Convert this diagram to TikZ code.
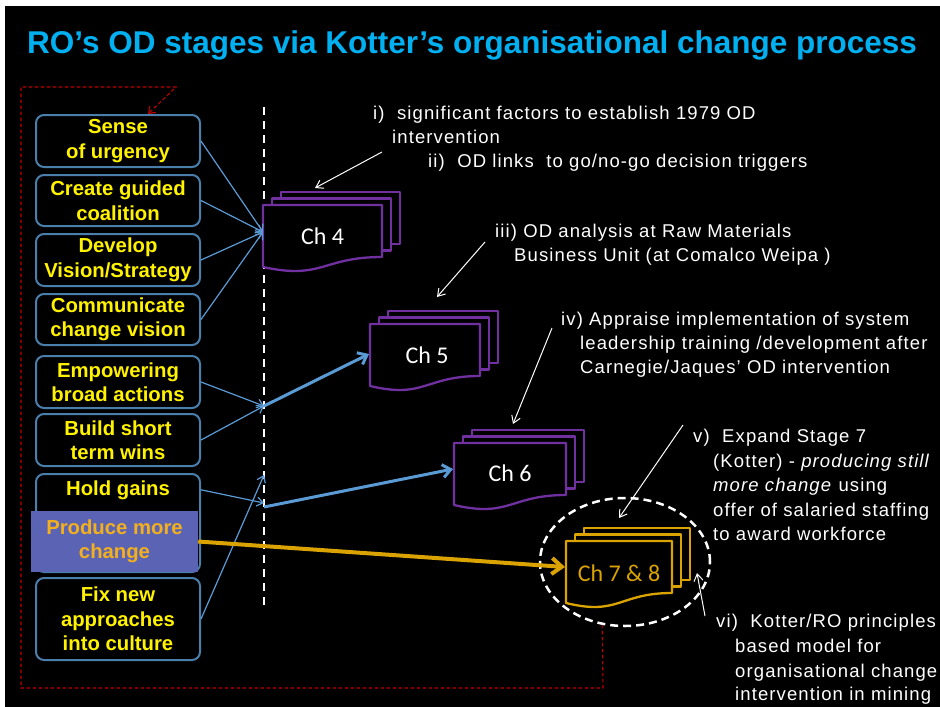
\documentclass[tikz,border=0pt]{standalone}
\usepackage{fontspec}
\setmainfont{Liberation Sans}
\newfontfamily\calfont{Carlito}
\newfontfamily\annfont[LetterSpace=6]{Liberation Sans}
\usetikzlibrary{arrows.meta,shapes.geometric}
\definecolor{titleblue}{HTML}{00B0F0}
\definecolor{boxblue}{HTML}{4A7EAB}
\definecolor{arrblue}{HTML}{5B9BD5}
\definecolor{docpurple}{HTML}{7030A0}
\definecolor{prodfill}{HTML}{5B63B5}
\definecolor{prodtext}{HTML}{F2B01E}
\definecolor{goldc}{HTML}{DAA300}
\definecolor{darkred}{HTML}{C00000}
\newcommand\kdocs[4]{%
 \filldraw[docline,draw=#4] ({#1+18},{#2-13}) rectangle ({#1+18+#3},{#2+39});
 \filldraw[docline,draw=#4] ({#1+9},{#2-6.5}) rectangle ({#1+9+#3},{#2+45.5});
 \filldraw[docline,draw=#4] (#1,#2) -- ({#1+#3},#2) -- ({#1+#3},{#2+52}) .. controls ({#1+#3/2},{#2+52}) and ({#1+#3/2},{#2+75}) .. (#1,{#2+62}) -- cycle;}
\begin{document}
\begin{tikzpicture}[x=1pt,y=-1pt,
  kbox/.style={draw=boxblue, line width=2pt, rounded corners=8pt, minimum width=164pt, inner sep=0pt, align=center, text=yellow, font=\bfseries\fontsize{20.3}{24.5}\selectfont},
  ktext/.style={inner sep=0pt, text=yellow, font=\bfseries\fontsize{20.3}{24.5}\selectfont},
  ann/.style={anchor=base west, inner sep=0pt, text=white, font=\annfont\fontsize{18.5}{22}\selectfont},
  chlab/.style={anchor=base, inner sep=0pt, font=\calfont\fontsize{24}{28}\selectfont},
  docline/.style={fill=black, line width=2.3pt, line join=round},
  thinarr/.style={draw=arrblue, line width=1.2pt, -{Straight Barb[length=6pt,width=9pt]}},
  thickarr/.style={draw=arrblue, line width=3pt, -{Straight Barb[length=8pt,width=13pt]}},
  goldarr/.style={draw=goldc, line width=4pt, -{Straight Barb[length=10pt,width=16pt]}},
  warr/.style={draw=white, line width=1pt, -{Straight Barb[length=7pt,width=9pt]}},
  reddash/.style={draw=darkred, line width=1.1pt, dash pattern=on 3.5pt off 2.5pt},
  whitedash/.style={draw=white, line width=2.5pt, dash pattern=on 8pt off 6pt}
]
\useasboundingbox (0,0) rectangle (940,707);
\fill[white] (0,0) rectangle (940,707);
\fill[black] (5,6) rectangle (940,707);

% title
\node[anchor=base west, inner sep=0pt, text=titleblue, font=\bfseries\fontsize{31.5}{36}\selectfont] (title) at (27,53) {RO’s OD stages via Kotter’s organisational change process};

% dashed divider
\coordinate (vtop) at (264,107);
\coordinate (vbot) at (264,607);
\draw[whitedash] (vtop) -- (vbot);

% ellipse round Ch 7 & 8
\node[draw=white, line width=2.5pt, dash pattern=on 8pt off 5pt, ellipse, minimum width=170pt, minimum height=128pt, inner sep=0pt] (ell) at (625,562) {};

% Kotter boxes
\node[kbox, minimum height=52pt] (b1) at (118,141) {Sense\\of urgency};
\node[kbox, minimum height=51pt] (b2) at (118,200.5) {Create guided\\coalition};
\node[kbox, minimum height=52pt] (b3) at (118,260) {Develop\\Vision/Strategy};
\node[kbox, minimum height=51pt] (b4) at (118,319.5) {Communicate\\change vision};
\node[kbox, minimum height=52pt] (b5) at (118,382) {Empowering\\broad actions};
\node[kbox, minimum height=52pt] (b6) at (118,440) {Build short\\term wins};
\node[kbox, minimum height=98pt] (b7) at (118,523) {};
\node[ktext, anchor=base] (holdt) at (118,495) {Hold gains};
\node[fill=prodfill, minimum width=167pt, minimum height=61pt, inner sep=0pt, align=center, text=prodtext, font=\bfseries\fontsize{20.3}{24.5}\selectfont] (b7p) at (114.5,541.5) {Produce more\\change};
\node[kbox, minimum height=82pt] (b8) at (118,619) {Fix new\\approaches\\into culture};

% chapter stacks
\kdocs{263}{205}{119}{docpurple}
\node[chlab, text=white] (ch4) at (322.5,244) {Ch 4};
\kdocs{370}{324}{110}{docpurple}
\node[chlab, text=white] (ch5) at (427,363) {Ch 5};
\kdocs{454}{443}{112}{docpurple}
\node[chlab, text=white] (ch6) at (510,481) {Ch 6};
\kdocs{566}{541}{106}{goldc}
\node[chlab, text=goldc] (ch7) at (619,581) {Ch 7 \& 8};

\coordinate (ch4in) at (263,232);
\coordinate (ch5in) at (369,354);
\coordinate (ch6in) at (453,469);
\coordinate (ch7in) at (565,567);
\coordinate (j5) at (264,406);
\coordinate (j6a) at (264,503);
\coordinate (j6b) at (264,475);
\coordinate (j6) at (264,507);

% blue connectors
\draw[thinarr] (b1.east) -- (ch4in);
\draw[thinarr] (b2.east) -- (ch4in);
\draw[thinarr] (b3.east) -- (ch4in);
\draw[thinarr] (b4.east) -- (ch4in);
\draw[thinarr] (b5.east) -- (j5);
\draw[thinarr] (b6.east) -- (j5);
\draw[thickarr] (j5) -- (ch5in);
\draw[thinarr] (b7.east |- holdt.center) -- (j6a);
\draw[thinarr] (b8.east) -- (j6b);
\draw[thickarr] (j6) -- (ch6in);
\draw[goldarr] (b7p.east) -- (ch7in);

% red dashed feedback loop
\coordinate (rtip) at (148,114);
\draw[reddash, -{Straight Barb[length=6pt,width=9pt]}] (ell.250.5) -- (603,688) -- (21,688) -- (21,87) -- (176,87) -- (rtip);

% annotations
\node[ann] (i1) at (373,119) {i)~ significant factors to establish 1979 OD};
\node[ann] (i2) at (392,143) {intervention};
\node[ann] (i3) at (428,167) {ii)~ OD links~ to go/no-go decision triggers};
\node[ann] (iii1) at (495,237) {iii) OD analysis at Raw Materials};
\node[ann] (iii2) at (514,261) {Business Unit (at Comalco Weipa )};
\node[ann] (iv1) at (561,325) {iv) Appraise implementation of system};
\node[ann] (iv2) at (580,349) {leadership training /development after};
\node[ann] (iv3) at (580,373) {Carnegie/Jaques’ OD intervention};
\node[ann] (v1) at (693,442) {v)~ Expand Stage 7};
\node[ann] (v2) at (713,467) {(Kotter) - \textit{producing still}};
\node[ann] (v3) at (713,491) {\textit{more change} using};
\node[ann] (v4) at (713,516) {offer of salaried staffing};
\node[ann] (v5) at (713,540) {to award workforce};
\node[ann] (vi1) at (716,627) {vi)~ Kotter/RO principles};
\node[ann] (vi2) at (735,652) {based model for};
\node[ann] (vi3) at (735,677) {organisational change};
\node[ann] (vi4) at (735,700) {intervention in mining};

% white pointer arrows
\coordinate (wa1) at (382,152);
\coordinate (wb1) at (315,188);
\coordinate (wa2) at (485,242);
\coordinate (wb2) at (437,297);
\coordinate (wa3) at (552,328);
\coordinate (wb3) at (513,424);
\coordinate (wa4) at (683,425);
\coordinate (wb4) at (619,518);
\coordinate (wa5) at (705,616);
\coordinate (wb5) at (697,573);
\draw[warr] (wa1) -- (wb1);
\draw[warr] (wa2) -- (wb2);
\draw[warr] (wa3) -- (wb3);
\draw[warr] (wa4) -- (wb4);
\draw[warr] (wa5) -- (wb5);
\end{tikzpicture}
\end{document}
